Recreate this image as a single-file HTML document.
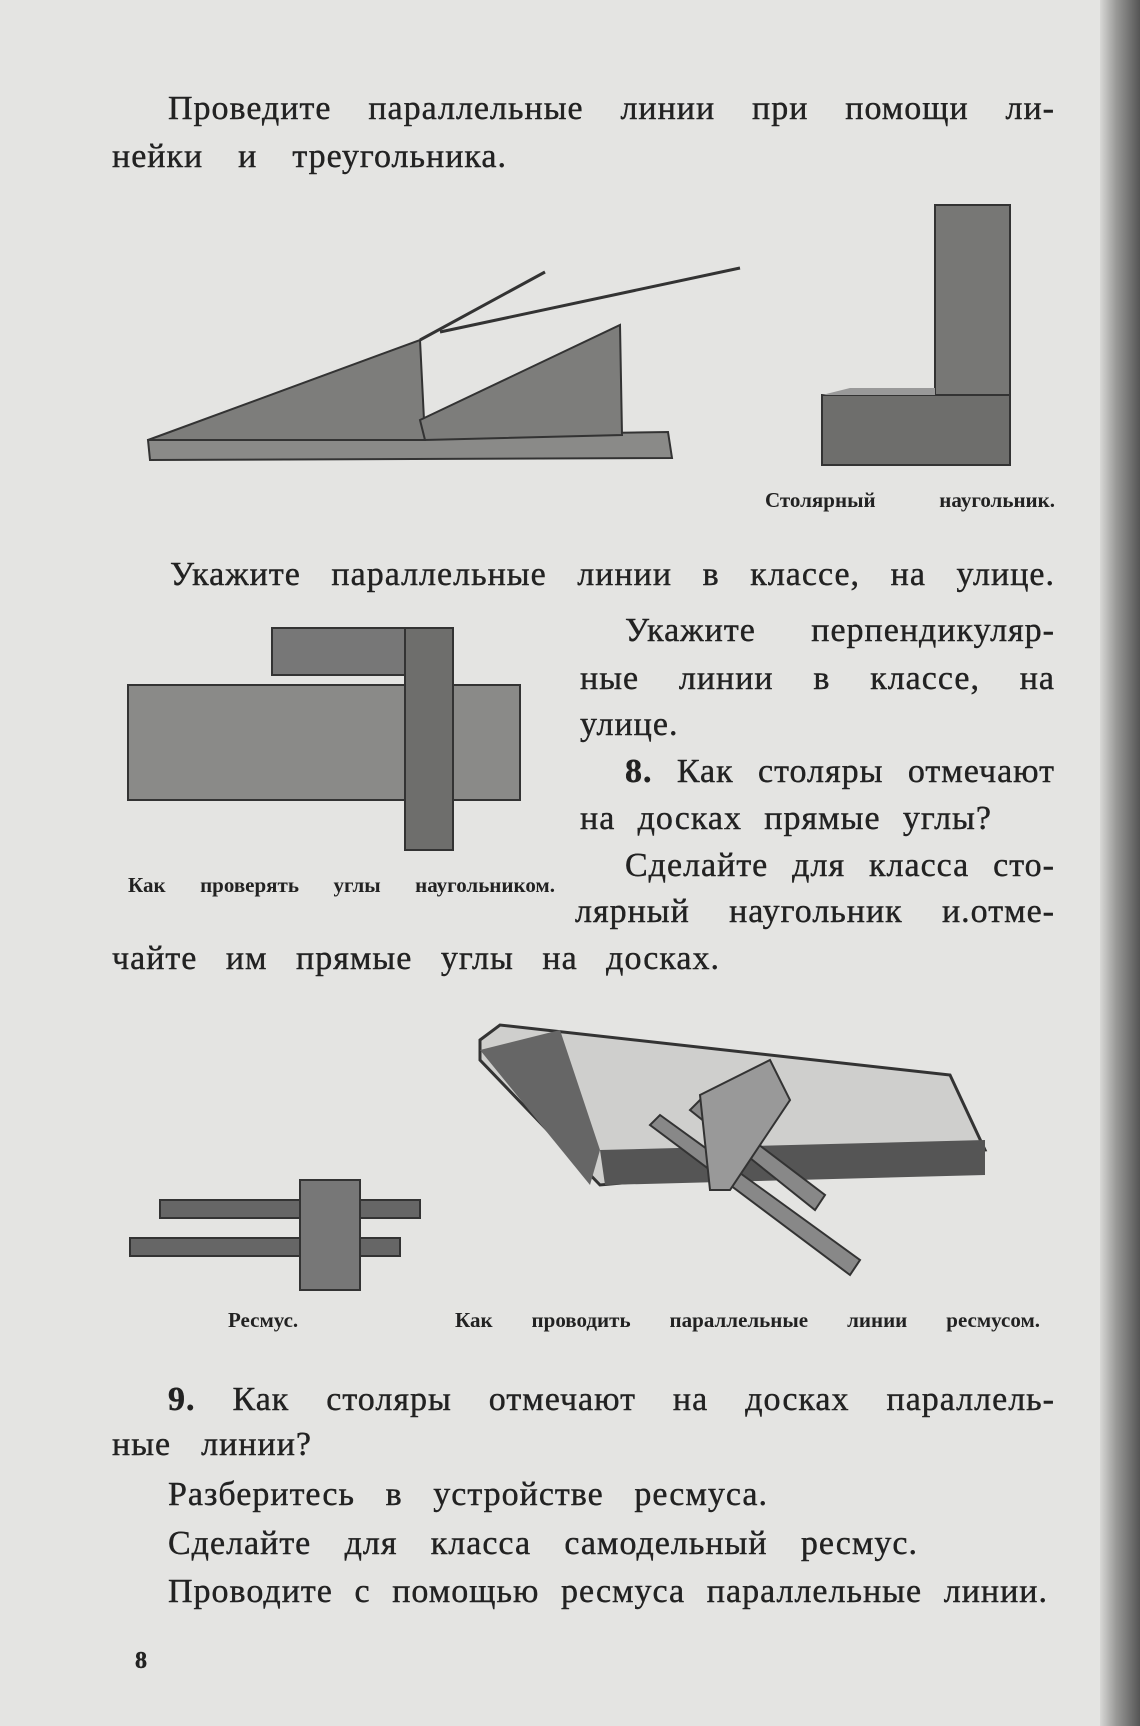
<!DOCTYPE html>
<html><head><meta charset="utf-8">
<style>
html,body{margin:0;padding:0}
body{width:1140px;height:1726px;position:relative;overflow:hidden;background:#e4e4e2;font-family:"Liberation Serif","DejaVu Serif",serif;color:#222}
.edge{position:absolute;left:1100px;top:0;width:40px;height:1726px;background:linear-gradient(90deg,#d8d8d6,#9a9a98 40%,#555 100%)}
.l{position:absolute;font-size:34px;line-height:38px;letter-spacing:1px;white-space:nowrap;text-align:justify;text-align-last:justify;-webkit-text-stroke:0.4px #222}
.c{position:absolute;font-size:21px;font-weight:bold;white-space:nowrap;text-align:justify;text-align-last:justify;line-height:24px}
svg{position:absolute;left:0;top:0}
</style></head><body>
<div class="edge"></div>
<svg width="1140" height="1726">
<polygon points="148,440 668,432 672,458 150,460" fill="#8a8a88" stroke="#333" stroke-width="2"/>
<polygon points="148,440 420,340 425,440" fill="#7d7d7b" stroke="#333" stroke-width="2"/>
<polygon points="420,420 620,325 622,435 425,440" fill="#7d7d7b" stroke="#333" stroke-width="2"/>
<line x1="420" y1="340" x2="545" y2="272" stroke="#333" stroke-width="3"/>
<line x1="440" y1="332" x2="740" y2="268" stroke="#333" stroke-width="3"/>
<rect x="935" y="205" width="75" height="215" fill="#777775" stroke="#333" stroke-width="2"/>
<rect x="822" y="395" width="188" height="70" fill="#6e6e6c" stroke="#333" stroke-width="2"/>
<polygon points="822,395 850,388 935,388 935,395" fill="#999"/>
<rect x="128" y="685" width="392" height="115" fill="#8a8a88" stroke="#333" stroke-width="2"/>
<rect x="272" y="628" width="175" height="47" fill="#777" stroke="#333" stroke-width="2"/>
<rect x="405" y="628" width="48" height="222" fill="#6e6e6c" stroke="#333" stroke-width="2"/>
<polygon points="480,1040 500,1025 950,1075 985,1150 600,1185 480,1060" fill="#cfcfcd" stroke="#333" stroke-width="3"/>
<polygon points="600,1150 985,1140 985,1175 605,1185" fill="#555" />
<polygon points="480,1050 560,1030 600,1150 590,1185" fill="#666" />
<polygon points="660,1115 860,1260 850,1275 650,1125" fill="#888" stroke="#333" stroke-width="2"/>
<polygon points="700,1100 825,1195 815,1210 690,1110" fill="#888" stroke="#333" stroke-width="2"/>
<polygon points="700,1095 770,1060 790,1100 730,1190 710,1190" fill="#999" stroke="#333" stroke-width="2"/>
<rect x="160" y="1200" width="260" height="18" fill="#666" stroke="#333" stroke-width="2"/>
<rect x="130" y="1238" width="270" height="18" fill="#666" stroke="#333" stroke-width="2"/>
<rect x="300" y="1180" width="60" height="110" fill="#777" stroke="#333" stroke-width="2"/>
</svg>

<div class="l" style="left:168px;top:90px;width:887px">Проведите параллельные линии при помощи ли-</div>
<div class="l" style="left:112px;top:138px;width:395px">нейки и треугольника.</div>
<div class="c" style="left:765px;top:488px;width:290px">Столярный наугольник.</div>
<div class="l" style="left:170px;top:556px;width:885px">Укажите параллельные линии в классе, на улице.</div>
<div class="l" style="left:625px;top:612px;width:430px">Укажите перпендикуляр-</div>
<div class="l" style="left:580px;top:660px;width:475px">ные линии в классе, на</div>
<div class="l" style="left:580px;top:706px;width:112px">улице.</div>
<div class="l" style="left:625px;top:753px;width:430px"><b>8.</b> Как столяры отмечают</div>
<div class="l" style="left:580px;top:800px;width:412px">на досках прямые углы?</div>
<div class="l" style="left:625px;top:847px;width:430px">Сделайте для класса сто-</div>
<div class="c" style="left:128px;top:873px;width:427px">Как проверять углы наугольником.</div>
<div class="l" style="left:575px;top:893px;width:480px">лярный наугольник и.отме-</div>
<div class="l" style="left:112px;top:940px;width:608px">чайте им прямые углы на досках.</div>
<div class="c" style="left:228px;top:1308px;width:90px">Ресмус.</div>
<div class="c" style="left:455px;top:1308px;width:585px">Как проводить параллельные линии ресмусом.</div>
<div class="l" style="left:168px;top:1381px;width:887px"><b>9.</b> Как столяры отмечают на досках параллель-</div>
<div class="l" style="left:112px;top:1426px;width:200px">ные линии?</div>
<div class="l" style="left:168px;top:1476px;width:600px">Разберитесь в устройстве ресмуса.</div>
<div class="l" style="left:168px;top:1525px;width:750px">Сделайте для класса самодельный ресмус.</div>
<div class="l" style="left:168px;top:1573px;width:880px">Проводите с помощью ресмуса параллельные линии.</div>
<div class="l" style="left:135px;top:1642px;font-size:24px;font-weight:bold">8</div>
</body></html>
